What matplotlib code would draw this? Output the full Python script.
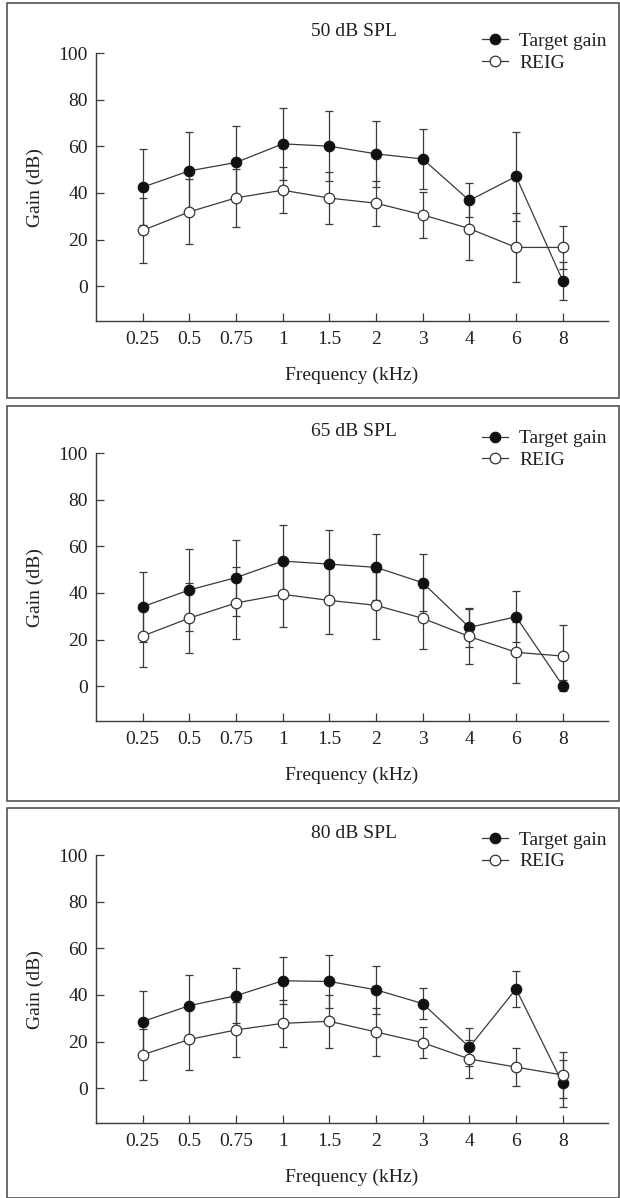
import matplotlib
matplotlib.use("Agg")
import matplotlib.pyplot as plt
from matplotlib.patches import Rectangle

# ---------------- data ----------------
freq_labels = ['0.25', '0.5', '0.75', '1', '1.5', '2', '3', '4', '6', '8']
panel_titles = ['50 dB SPL', '65 dB SPL', '80 dB SPL']
series_names = ['Target gain', 'REIG']

target_50 = [42.5, 49.5, 53.1, 61.1, 60.1, 56.8, 54.6, 36.8, 47.1, 2.3]
target_50_sd = [16.3, 16.5, 15.7, 15.5, 14.9, 14.2, 12.9, 7.3, 19.1, 8.2]
reig_50 = [23.9, 31.9, 37.9, 41.2, 37.8, 35.6, 30.6, 24.7, 16.6, 16.6]
reig_50_sd = [13.9, 13.9, 12.4, 10.0, 11.2, 9.7, 10.0, 13.3, 14.9, 9.3]

target_65 = [34.1, 41.3, 46.6, 53.7, 52.4, 51.0, 44.4, 25.2, 29.8, 0.2]
target_65_sd = [15.0, 17.6, 16.3, 15.4, 14.6, 14.2, 12.3, 8.2, 11.0, 2.5]
reig_65 = [21.5, 29.2, 35.7, 39.4, 36.8, 34.7, 29.1, 21.3, 14.5, 12.9]
reig_65_sd = [13.3, 15.0, 15.4, 13.9, 14.5, 14.5, 13.1, 11.8, 13.1, 13.2]

target_80 = [28.6, 35.4, 39.7, 46.1, 45.8, 42.2, 36.3, 17.6, 42.6, 2.0]
target_80_sd = [13.2, 13.2, 11.8, 10.1, 11.2, 10.2, 6.6, 8.2, 7.9, 10.0]
reig_80 = [14.3, 20.9, 25.0, 27.8, 28.7, 24.1, 19.5, 12.5, 9.0, 5.6]
reig_80_sd = [11.0, 13.3, 11.8, 10.2, 11.5, 10.2, 6.6, 8.2, 8.2, 9.8]

y_ticks = [0, 20, 40, 60, 80, 100]

panels = [
    (target_50, target_50_sd, reig_50, reig_50_sd),
    (target_65, target_65_sd, reig_65, reig_65_sd),
    (target_80, target_80_sd, reig_80, reig_80_sd),
]

# ---------------- style / layout ----------------
plt.rcParams['font.family'] = ['Liberation Serif', 'DejaVu Serif']
FS = 14
INK = '#231f20'
LINE = '#3a3a3a'

W, H = 620, 1198
fig = plt.figure(figsize=(W / 100, H / 100), dpi=100)

# pixel layout (top, bottom of axes) and panel frames
ax_px = [(53.3, 321.0), (453.3, 721.0), (855.3, 1123.0)]
frame_px = [(3.0, 397.7), (406.0, 800.7), (808.0, 1197.5)]
legend_center_px = [52.0, 449.5, 850.7]
left_px, right_px = 96.0, 608.0

x = list(range(len(freq_labels)))

for i, (tg, tsd, rg, rsd) in enumerate(panels):
    top, bot = ax_px[i]
    ax = fig.add_axes([left_px / W, 1 - bot / H, (right_px - left_px) / W, (bot - top) / H])

    ax.errorbar(x, tg, yerr=tsd, fmt='none', ecolor=LINE, elinewidth=0.9,
                capsize=2.6, capthick=0.9, zorder=1)
    ax.errorbar(x, rg, yerr=rsd, fmt='none', ecolor=LINE, elinewidth=0.9,
                capsize=2.6, capthick=0.9, zorder=1)
    l1, = ax.plot(x, tg, '-', color=LINE, lw=0.9, marker='o', ms=7.6,
                  mfc='#111111', mec='#111111', mew=0.8, zorder=3,
                  label=series_names[0])
    l2, = ax.plot(x, rg, '-', color=LINE, lw=0.9, marker='o', ms=7.6,
                  mfc='white', mec='#333333', mew=0.9, zorder=4,
                  label=series_names[1])

    ax.set_xlim(-1, 9.97)
    ax.set_ylim(-15, 100)
    ax.set_xticks(x)
    ax.set_xticklabels(freq_labels)
    ax.set_yticks(y_ticks)

    for s in ['top', 'right']:
        ax.spines[s].set_visible(False)
    ax.spines['left'].set_bounds(-15, 100)
    for s in ['left', 'bottom']:
        ax.spines[s].set_color(LINE)
        ax.spines[s].set_linewidth(1.0)

    ax.tick_params(axis='both', direction='in', length=6, width=0.9,
                   color=LINE, labelsize=FS, labelcolor=INK)
    ax.tick_params(axis='x', pad=7.0)
    ax.tick_params(axis='y', pad=6)

    ax.set_xlabel('Frequency (kHz)', fontsize=FS, color=INK, va='center')
    ax.xaxis.set_label_coords(0.5, -0.204)
    ax.set_ylabel('Gain (dB)', fontsize=FS, color=INK, va='center')
    ax.yaxis.set_label_coords(-0.118, 0.5)

    ax.text(0.504, 1.08, panel_titles[i], transform=ax.transAxes,
            ha='center', va='center', fontsize=FS, color=INK)

    lc = legend_center_px[i]
    ax.legend(handles=[l1, l2], loc='center left',
              bbox_to_anchor=((481.7 - left_px) / (right_px - left_px),
                              (bot - lc) / (bot - top)),
              frameon=False, fontsize=FS, borderpad=0, borderaxespad=0,
              handlelength=1.34, handletextpad=0.58, labelspacing=0.22,
              numpoints=1, labelcolor=INK)

# panel frames
for (t, b) in frame_px:
    fig.add_artist(Rectangle((7.3 / W, 1 - b / H), (619.3 - 7.3) / W, (b - t) / H,
                             transform=fig.transFigure, fill=False,
                             edgecolor='#444444', linewidth=1.1))

fig.savefig('out.png', dpi=100)
